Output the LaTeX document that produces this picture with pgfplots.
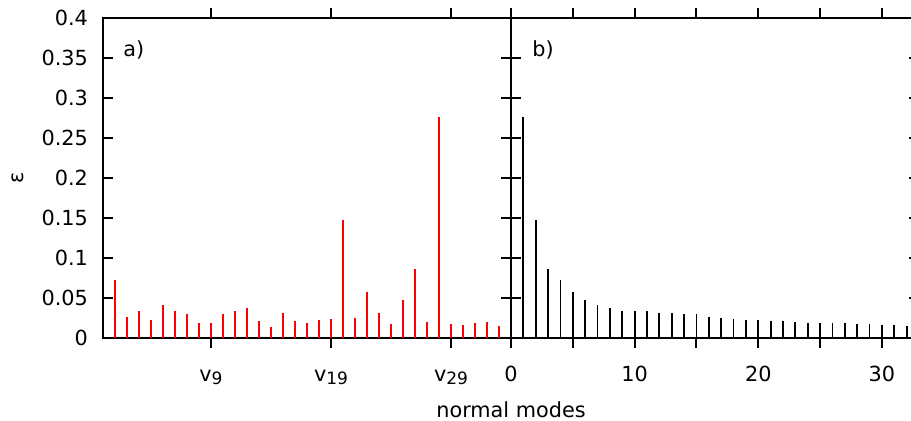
\documentclass[border=0pt]{standalone}
\usepackage{fontspec}
\setmainfont{DejaVu Sans}
\usepackage{pgfplots}
\pgfplotsset{compat=1.18}
\newcommand{\vsub}[1]{v\raisebox{-1.2pt}{\fontsize{8.5}{10}\selectfont #1}}
\begin{document}
\begin{tikzpicture}[font=\fontsize{10.4}{12.5}\selectfont]
\pgfplotsset{
  every axis/.append style={
    scale only axis, width=204pt, height=160pt,
    ymin=0, ymax=0.4,
    ytick={0,0.05,0.1,0.15,0.2,0.25,0.3,0.35,0.4},
    axis line style={line width=1pt},
    tick style={black, line width=1pt},
    major tick length=5pt,
    ytick align=inside,
    xtick align=outside,
    tick pos=both,
    xticklabel pos=lower, yticklabel pos=left,
    xticklabel style={anchor=base, yshift=-17pt},
    yticklabel style={anchor=east, xshift=-4pt},
  }
}
\begin{axis}[at={(0pt,0pt)}, anchor=south west,
  xmin=0, xmax=34,
  xtick={9,19,29},
  xticklabels={\vsub{9},\vsub{19},\vsub{29}},
  yticklabels={0,0.05,0.1,0.15,0.2,0.25,0.3,0.35,0.4},
  ylabel={ε},
  every axis y label/.style={at={(rel axis cs:0,0.5)}, xshift=-42.5pt, rotate=90, anchor=center},
  xlabel={normal modes},
  every axis x label/.style={at={(rel axis cs:1,0)}, yshift=-40pt, anchor=base},
]
\addplot[ycomb, red, line width=1pt] coordinates {
(1,0.0731) (2,0.026) (3,0.0332) (4,0.0227) (5,0.0416) (6,0.0332) (7,0.0298)
(8,0.0193) (9,0.0193) (10,0.0294) (11,0.0332) (12,0.0378) (13,0.0214) (14,0.0143)
(15,0.0311) (16,0.0214) (17,0.0189) (18,0.0223) (19,0.0239) (20,0.148) (21,0.0248)
(22,0.058) (23,0.0307) (24,0.0181) (25,0.0479) (26,0.0861) (27,0.0202) (28,0.276)
(29,0.0181) (30,0.0168) (31,0.0193) (32,0.0197) (33,0.0151)
};
\node[anchor=base west, inner sep=0pt] at (rel axis cs:0,1) [xshift=10pt, yshift=-19.5pt] {a)};
\end{axis}
\begin{axis}[at={(204pt,0pt)}, anchor=south west,
  xmin=0, xmax=33,
  xtick={0,5,10,15,20,25,30},
  xticklabels={0,,10,,20,,30},
  yticklabels={},
]
\addplot[ycomb, black, line width=0.9pt] coordinates {
(1,0.276) (2,0.148) (3,0.0861) (4,0.0731) (5,0.058) (6,0.0479) (7,0.0416)
(8,0.0378) (9,0.0332) (10,0.0332) (11,0.0332) (12,0.0311) (13,0.0307) (14,0.0298)
(15,0.0294) (16,0.026) (17,0.0248) (18,0.0239) (19,0.0227) (20,0.0223) (21,0.0214)
(22,0.0214) (23,0.0202) (24,0.0193) (25,0.0193) (26,0.0193) (27,0.0189) (28,0.0181)
(29,0.0181) (30,0.0168) (31,0.0168) (32,0.0151) (33,0.0143)
};
\node[anchor=base west, inner sep=0pt] at (rel axis cs:0,1) [xshift=10.5pt, yshift=-19.5pt] {b)};
\end{axis}
\pgfresetboundingbox
\useasboundingbox (-51.5pt,-41.5pt) rectangle (404pt,169pt);
\end{tikzpicture}
\end{document}
